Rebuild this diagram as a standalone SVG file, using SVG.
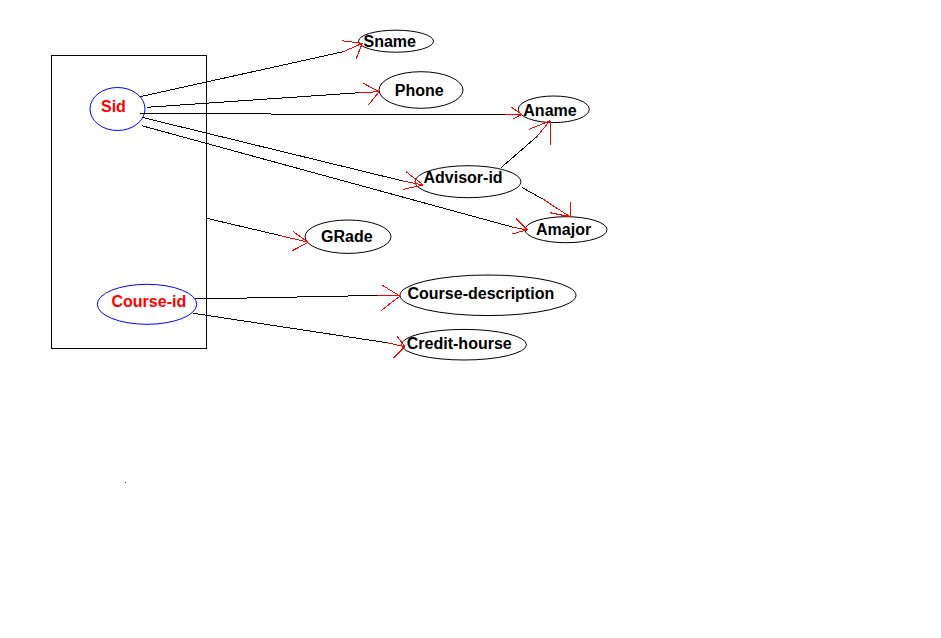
<svg xmlns="http://www.w3.org/2000/svg" width="941" height="638" viewBox="0 0 941 638">
<style>
  .bg{fill:#ffffff}
  .box{fill:none;stroke:#000;stroke-width:1}
  .attr{fill:none;stroke:#000;stroke-width:1}
  .key{fill:none;stroke:#0000ff;stroke-width:1}
  .t{font-family:"Liberation Sans",Arial,sans-serif;font-size:16px;font-weight:bold;fill:#000}
  .kt{font-family:"Liberation Sans",Arial,sans-serif;font-size:16px;font-weight:bold;fill:#ff0000}
  .ln{fill:none;stroke:#000;stroke-width:1}
  .ah{fill:none;stroke:#ff0000;stroke-width:1}
</style>
<rect class="bg" x="0" y="0" width="941" height="638"/>
<g id="entity">
  <rect class="box" x="51.5" y="55.5" width="155" height="293"/>
</g>
<g id="sid">
  <ellipse class="key" cx="117.5" cy="109" rx="27.5" ry="21.5"/>
  <text class="kt" x="101" y="112">Sid</text>
</g>
<g id="course-id">
  <ellipse class="key" cx="147" cy="304.3" rx="49.7" ry="20"/>
  <text class="kt" x="111.5" y="306.7">Course-id</text>
</g>
<g id="sname">
  <ellipse class="attr" cx="396" cy="41.2" rx="37.5" ry="11"/>
  <text class="t" x="363.5" y="46.7">Sname</text>
</g>
<g id="phone">
  <ellipse class="attr" cx="421" cy="90" rx="42" ry="18.3"/>
  <text class="t" x="394.8" y="96">Phone</text>
</g>
<g id="aname">
  <ellipse class="attr" cx="553.8" cy="109.3" rx="35.5" ry="13.3"/>
  <text class="t" x="523.3" y="115.5">Aname</text>
</g>
<g id="advisor-id">
  <ellipse class="attr" cx="468" cy="181.7" rx="53" ry="16"/>
  <text class="t" x="423.5" y="183.3">Advisor-id</text>
</g>
<g id="amajor">
  <ellipse class="attr" cx="566" cy="229.7" rx="41" ry="13"/>
  <text class="t" x="536" y="234.5">Amajor</text>
</g>
<g id="grade">
  <ellipse class="attr" cx="348" cy="236.7" rx="43" ry="16.7"/>
  <text class="t" x="321" y="241.7">GRade</text>
</g>
<g id="course-description">
  <ellipse class="attr" cx="488" cy="295.3" rx="88" ry="20.3"/>
  <text class="t" x="407.5" y="299.3">Course-description</text>
</g>
<g id="credit-hourse">
  <ellipse class="attr" cx="464" cy="344.7" rx="62.5" ry="15.3"/>
  <text class="t" x="406.8" y="349.3">Credit-hourse</text>
</g>
<g id="connectors" shape-rendering="crispEdges">
  <!-- Sid -> Sname -->
  <line class="ln" x1="140" y1="96.7" x2="343.3" y2="51.7"/>
  <path class="ah" d="M343.3 51.7 L362.3 43.3 M362.3 43.3 L341.7 40.7 M362.3 43.3 L356 59"/>
  <!-- Sid -> Phone -->
  <line class="ln" x1="146.7" y1="107.3" x2="359.3" y2="92.7"/>
  <path class="ah" d="M359.3 92.7 L379.3 91.7 M379.3 91.7 L363.3 83.3 M379.3 91.7 L368.3 105"/>
  <!-- Sid -> Aname -->
  <polyline class="ln" points="140,113.3 326.7,114.3 505,114.3"/>
  <path class="ah" d="M505 114.3 L521.7 114.3 M521.7 114.3 L510.7 106.7 M521.7 114.3 L512.7 119.3"/>
  <!-- Advisor-id -> Aname -->
  <line class="ln" x1="501.3" y1="167.5" x2="536.7" y2="136.7"/>
  <path class="ah" d="M536.7 136.7 L550 120.7 M550 120.7 L529.3 129.3 M550 120.7 L550 145"/>
  <!-- Sid -> Advisor-id -->
  <line class="ln" x1="141.7" y1="117.3" x2="401.7" y2="180.7"/>
  <path class="ah" d="M401.7 180.7 L423.3 185 M423.3 185 L406 171.7 M423.3 185 L403.3 189.3"/>
  <!-- Advisor-id -> Amajor -->
  <line class="ln" x1="521.7" y1="187.3" x2="543.3" y2="199.3"/>
  <path class="ah" d="M543.3 199.3 L570 216.7 M570 216.7 L550 212.7 M570 216.7 L570 201.7"/>
  <!-- Sid -> Amajor -->
  <line class="ln" x1="141.7" y1="125.7" x2="513.3" y2="227.3"/>
  <path class="ah" d="M513.3 227.3 L527.3 230 M527.3 230 L516 218.3 M527.3 230 L511.7 234"/>
  <!-- Entity -> GRade -->
  <line class="ln" x1="206.7" y1="218.3" x2="280" y2="235.5"/>
  <path class="ah" d="M280 235.5 L308.3 242.3 M308.3 242.3 L293.3 231.7 M308.3 242.3 L291.7 251"/>
  <!-- Course-id -> Course-description -->
  <polyline class="ln" points="195,298.3 246.7,298 348.3,296 376.7,295.3"/>
  <path class="ah" d="M376.7 295.3 L400 296 M400 296 L381.7 285 M400 296 L381 310.7"/>
  <!-- Course-id -> Credit-hourse -->
  <line class="ln" x1="193.3" y1="313.3" x2="386.7" y2="342.7"/>
  <path class="ah" d="M386.7 342.7 L405 346.7 M405 346.7 L396.7 335.7 M405 346.7 L393.3 358.3"/>
</g>
<rect x="125" y="482" width="1" height="1" fill="#a00000"/>
</svg>
